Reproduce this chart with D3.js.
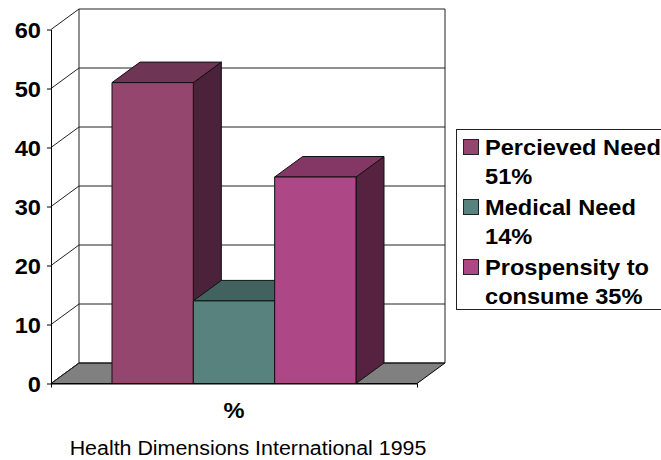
<!DOCTYPE html>
<html>
<head>
<meta charset="utf-8">
<script src="https://cdn.jsdelivr.net/npm/d3@7"></script>
<style>
  html, body { margin: 0; padding: 0; background: #fff; }
  svg { display: block; }
  text { font-family: "Liberation Sans", Arial, sans-serif; fill: #000; }
</style>
</head>
<body>
<div id="chart"></div>
<script>
const series = ["Percieved Need 51%", "Medical Need 14%", "Prospensity to consume 35%"];
const values = [51, 14, 35];
const category = ["%"];
const yTicks = [0, 10, 20, 30, 40, 50, 60];
const legendLines = [["Percieved Need", "51%"], ["Medical Need", "14%"], ["Prospensity to", "consume 35%"]];
const frontColors = ["#94466e", "#58827e", "#ae4785"];
const topColors = ["#6e3555", "#426260", "#843664"];
const sideColors = ["#4b2239", "#304a48", "#552340"];
const caption = "Health Dimensions International 1995";

const width = 661, height = 460;
const depth = {x: 28, y: -20.5};
const boldSize = "22.5px";
const stretch = 1.05; // the reference text is a bit wider than it is tall
const captionStretch = 1.07;

const svg = d3.select("#chart")
    .append("svg")
    .attr("width", width)
    .attr("height", height);

const y = d3.scaleLinear().domain([0, 60]).range([383.5, 29.5]);
const x0 = d3.scaleBand().domain(category).range([51, 417]).padding(0.2);
const x1 = d3.scaleBand().domain(series).range([0, x0.bandwidth()]);

const poly = (pts) => pts.map(p => p.join(",")).join(" ");

// stretched text, placed by transform
function addText(g, px, py, str, size, weight, anchor, sx) {
  return g.append("text")
      .attr("transform", `translate(${px},${py}) scale(${sx},1)`)
      .attr("text-anchor", anchor)
      .style("font-size", size)
      .style("font-weight", weight)
      .text(str);
}

// floor
svg.append("polygon")
    .attr("points", poly([[x0.range()[0], y(0)], [x0.range()[1], y(0)],
      [x0.range()[1] + depth.x, y(0) + depth.y], [x0.range()[0] + depth.x, y(0) + depth.y]]))
    .attr("fill", "#808080")
    .attr("stroke", "#000")
    .attr("stroke-width", 1);

// back wall gridlines and the slanted ones on the side wall
const grid = svg.append("g").attr("fill", "none").attr("stroke", "#222").attr("stroke-width", 1);
yTicks.forEach(t => {
  grid.append("line")
      .attr("x1", x0.range()[0] + depth.x).attr("x2", x0.range()[1] + depth.x)
      .attr("y1", y(t) + depth.y).attr("y2", y(t) + depth.y);
  grid.append("line")
      .attr("x1", x0.range()[0]).attr("x2", x0.range()[0] + depth.x)
      .attr("y1", y(t)).attr("y2", y(t) + depth.y);
});
grid.append("line")
    .attr("x1", x0.range()[0] + depth.x).attr("x2", x0.range()[0] + depth.x)
    .attr("y1", y(0) + depth.y).attr("y2", y(60) + depth.y);
grid.append("line")
    .attr("x1", x0.range()[1] + depth.x).attr("x2", x0.range()[1] + depth.x)
    .attr("y1", y(0) + depth.y).attr("y2", y(60) + depth.y);

// bars, left to right so each one covers the side of the one before
const bars = svg.append("g").attr("stroke", "#111").attr("stroke-width", 1).attr("stroke-linejoin", "round");
series.forEach((s, i) => {
  const l = x0("%") + x1(s), r = l + x1.bandwidth(), t = y(values[i]), b = y(0);
  bars.append("polygon")
      .attr("points", poly([[r, t], [r + depth.x, t + depth.y], [r + depth.x, b + depth.y], [r, b]]))
      .attr("fill", sideColors[i]);
  bars.append("polygon")
      .attr("points", poly([[l, t], [r, t], [r + depth.x, t + depth.y], [l + depth.x, t + depth.y]]))
      .attr("fill", topColors[i]);
  bars.append("rect")
      .attr("x", l).attr("y", t)
      .attr("width", x1.bandwidth()).attr("height", b - t)
      .attr("fill", frontColors[i]);
});

// axes
const yAxis = svg.append("g")
    .attr("transform", `translate(${x0.range()[0]},0)`)
    .call(d3.axisLeft(y).tickValues(yTicks).tickSize(4).tickSizeOuter(0).tickPadding(6));
yAxis.selectAll("text")
    .attr("x", 0)
    .attr("transform", `translate(-10,1) scale(${stretch},1)`)
    .style("font-family", '"Liberation Sans", Arial, sans-serif')
    .style("font-size", boldSize)
    .style("font-weight", "bold");

svg.append("g")
    .attr("transform", `translate(0,${y(0)})`)
    .call(d3.axisBottom(d3.scaleLinear().domain([0, 1]).range(x0.range())).tickValues([0, 1]).tickSize(4).tickSizeOuter(0).tickFormat(""));

addText(svg, x0("%") + x0.bandwidth() / 2, 418, category[0], boldSize, "bold", "middle", stretch);
addText(svg, 248, 455, caption, "20px", "normal", "middle", captionStretch);

// legend
const legend = svg.append("g");
legend.append("rect")
    .attr("x", 456.5).attr("y", 129.5)
    .attr("width", 210).attr("height", 180)
    .attr("fill", "#fff")
    .attr("stroke", "#222");

const legendY = [155, 215, 275];
legendLines.forEach((lines, i) => {
  legend.append("rect")
      .attr("x", 463.5).attr("y", legendY[i] - 15.5)
      .attr("width", 15).attr("height", 15)
      .attr("fill", frontColors[i])
      .attr("stroke", "#222");
  lines.forEach((line, j) => {
    addText(legend, 485, legendY[i] + j * 29, line, boldSize, "bold", "start", stretch);
  });
});
</script>
</body>
</html>
